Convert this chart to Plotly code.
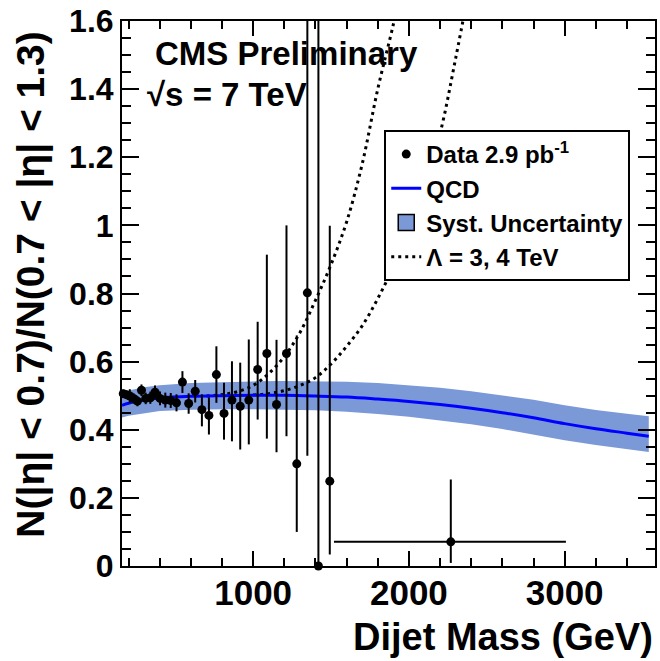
import plotly.graph_objects as go

# ---------------- data ----------------
mass = [166, 186, 208, 232, 257, 283, 310, 340, 370, 402, 436, 471, 508, 546, 586,
        628, 671, 716, 764, 813, 864, 917, 972, 1029, 1088, 1150, 1214, 1280, 1348,
        1419, 1492, 2269]
ratio = [0.506, 0.503, 0.499, 0.492, 0.484, 0.516, 0.492, 0.494, 0.510, 0.492, 0.487,
         0.486, 0.479, 0.540, 0.477, 0.513, 0.459, 0.442, 0.562, 0.448, 0.487, 0.469,
         0.487, 0.577, 0.624, 0.474, 0.624, 0.300, 0.802, 0.0, 0.249, 0.071]
err_up = [0.012, 0.012, 0.020, 0.015, 0.015, 0.017, 0.017, 0.018, 0.020, 0.020, 0.022,
          0.022, 0.025, 0.032, 0.030, 0.033, 0.045, 0.053, 0.083, 0.090, 0.114, 0.128,
          0.178, 0.140, 0.290, 0.190, 0.376, 0.377, 0.798, 1.600, 0.750, 0.183]
err_dn = [0.012, 0.012, 0.020, 0.015, 0.015, 0.017, 0.017, 0.018, 0.020, 0.020, 0.022,
          0.022, 0.025, 0.032, 0.030, 0.033, 0.049, 0.056, 0.083, 0.077, 0.121, 0.127,
          0.130, 0.147, 0.250, 0.140, 0.243, 0.200, 0.478, 0.000, 0.215, 0.062]
mass_err_lo = [0] * 31 + [750]
mass_err_hi = [0] * 31 + [739]

qcd_mass = [158, 200, 300, 400, 600, 800, 1000, 1200, 1400, 1600, 1800, 2000, 2200,
            2400, 2600, 2800, 3000, 3200, 3400, 3540]
qcd_ratio = [0.472, 0.478, 0.487, 0.493, 0.498, 0.500, 0.501, 0.501, 0.499, 0.496,
             0.490, 0.483, 0.474, 0.463, 0.450, 0.435, 0.418, 0.403, 0.390, 0.381]
syst_up = [0.508, 0.515, 0.525, 0.531, 0.537, 0.540, 0.542, 0.543, 0.543, 0.541,
           0.537, 0.531, 0.523, 0.513, 0.501, 0.488, 0.472, 0.458, 0.447, 0.440]
syst_dn = [0.436, 0.441, 0.449, 0.455, 0.459, 0.460, 0.460, 0.459, 0.457, 0.453,
           0.446, 0.438, 0.428, 0.416, 0.402, 0.386, 0.369, 0.355, 0.343, 0.335]

ci3_mass = [700, 800, 900, 1000, 1100, 1200, 1300, 1400, 1500, 1600, 1700, 1800, 1900, 1950]
ci3_ratio = [0.499, 0.503, 0.512, 0.530, 0.565, 0.615, 0.685, 0.780, 0.885, 1.010,
             1.180, 1.400, 1.590, 1.700]
ci4_mass = [1000, 1100, 1200, 1300, 1400, 1500, 1600, 1700, 1800, 1900, 2000, 2100,
            2200, 2300, 2380]
ci4_ratio = [0.502, 0.506, 0.515, 0.530, 0.553, 0.593, 0.645, 0.705, 0.785, 0.880,
             1.000, 1.120, 1.270, 1.490, 1.680]

FONT = "Liberation Sans, Arial, Helvetica, sans-serif"
BAND = "rgb(122,153,214)"

fig = go.Figure()

# systematic band
fig.add_trace(go.Scatter(
    x=qcd_mass + qcd_mass[::-1], y=syst_up + syst_dn[::-1],
    fill="toself", fillcolor=BAND, line=dict(width=0, color=BAND),
    mode="lines", name="Syst. Uncertainty", showlegend=False, hoverinfo="skip"))
# legend proxy for the band (square box, as in the original legend)
fig.add_trace(go.Scatter(
    x=[None], y=[None], mode="markers",
    marker=dict(symbol="square", size=30, color=BAND, line=dict(color="black", width=1.5)),
    name="Syst. Uncertainty", legendrank=3))

# contact interaction curves
fig.add_trace(go.Scatter(
    x=ci3_mass, y=ci3_ratio, mode="lines",
    line=dict(color="black", width=3, dash="3px,4px", shape="spline"),
    name="\u039b = 3, 4 TeV", legendrank=4))
fig.add_trace(go.Scatter(
    x=ci4_mass, y=ci4_ratio, mode="lines",
    line=dict(color="black", width=3, dash="3px,4px", shape="spline"),
    name="\u039b = 4 TeV", showlegend=False))

# QCD
fig.add_trace(go.Scatter(
    x=qcd_mass, y=qcd_ratio, mode="lines", line=dict(color="blue", width=3, shape="spline"),
    name="QCD", legendrank=2))

# data
fig.add_trace(go.Scatter(
    x=mass, y=ratio, mode="markers", marker=dict(color="black", size=9),
    error_y=dict(type="data", symmetric=False, array=err_up, arrayminus=err_dn,
                 color="black", thickness=2, width=0),
    error_x=dict(type="data", symmetric=False, array=mass_err_hi, arrayminus=mass_err_lo,
                 color="black", thickness=2, width=0),
    name="Data 2.9 pb<sup>-1</sup>", legendrank=1, cliponaxis=False))

fig.update_layout(
    width=660, height=661,
    margin=dict(l=122, r=3, t=21, b=95),
    paper_bgcolor="white", plot_bgcolor="white",
    font=dict(family=FONT, color="black"),
    showlegend=True,
    legend=dict(x=0.492, y=0.800, xanchor="left", yanchor="top",
                bgcolor="white", bordercolor="black", borderwidth=2,
                font=dict(family=FONT, size=24, color="black", weight="bold"),
                tracegroupgap=0, itemsizing="trace"),
    xaxis=dict(range=[158, 3580], tickvals=[1000, 2000, 3000],
               ticks="inside", ticklen=15, tickwidth=2, tickcolor="black",
               showline=True, linecolor="black", linewidth=2, mirror="ticks",
               showgrid=False, zeroline=False, ticklabelstandoff=-5,
               tickfont=dict(family=FONT, size=35, color="black", weight="bold"),
               minor=dict(dtick=200, tick0=0, ticks="inside", ticklen=8, tickwidth=2,
                          tickcolor="black", showgrid=False)),
    yaxis=dict(range=[0, 1.6], dtick=0.2, tick0=0,
               ticks="inside", ticklen=17, tickwidth=2, tickcolor="black",
               showline=True, linecolor="black", linewidth=2, mirror="ticks",
               showgrid=False, zeroline=False,
               tickfont=dict(family=FONT, size=32, color="black", weight="bold"),
               minor=dict(dtick=0.05, tick0=0, ticks="inside", ticklen=9, tickwidth=2,
                          tickcolor="black", showgrid=False)),
)

fig.add_annotation(text="<b>CMS Preliminary</b>", xref="paper", yref="paper",
                   x=0.058, y=0.9395, xanchor="left", yanchor="middle", showarrow=False,
                   font=dict(family=FONT, size=33, color="black"))
fig.add_annotation(text="<b>\u221as = 7 TeV</b>", xref="paper", yref="paper",
                   x=0.0436, y=0.8643, xanchor="left", yanchor="middle", showarrow=False,
                   font=dict(family=FONT, size=33, color="black"))
fig.add_annotation(text="<b>Dijet Mass (GeV)</b>", xref="paper", yref="paper",
                   x=1.0, y=-0.131, xanchor="right", yanchor="middle", showarrow=False,
                   font=dict(family=FONT, size=38, color="black"))
fig.add_annotation(text="<b>N(|\u03b7| < 0.7)/N(0.7 < |\u03b7| < 1.3)</b>", xref="paper", yref="paper",
                   x=-0.1714, y=0.9835, xanchor="center", yanchor="top", textangle=-90,
                   showarrow=False, font=dict(family=FONT, size=39, color="black"))

fig.write_html("out.html")
